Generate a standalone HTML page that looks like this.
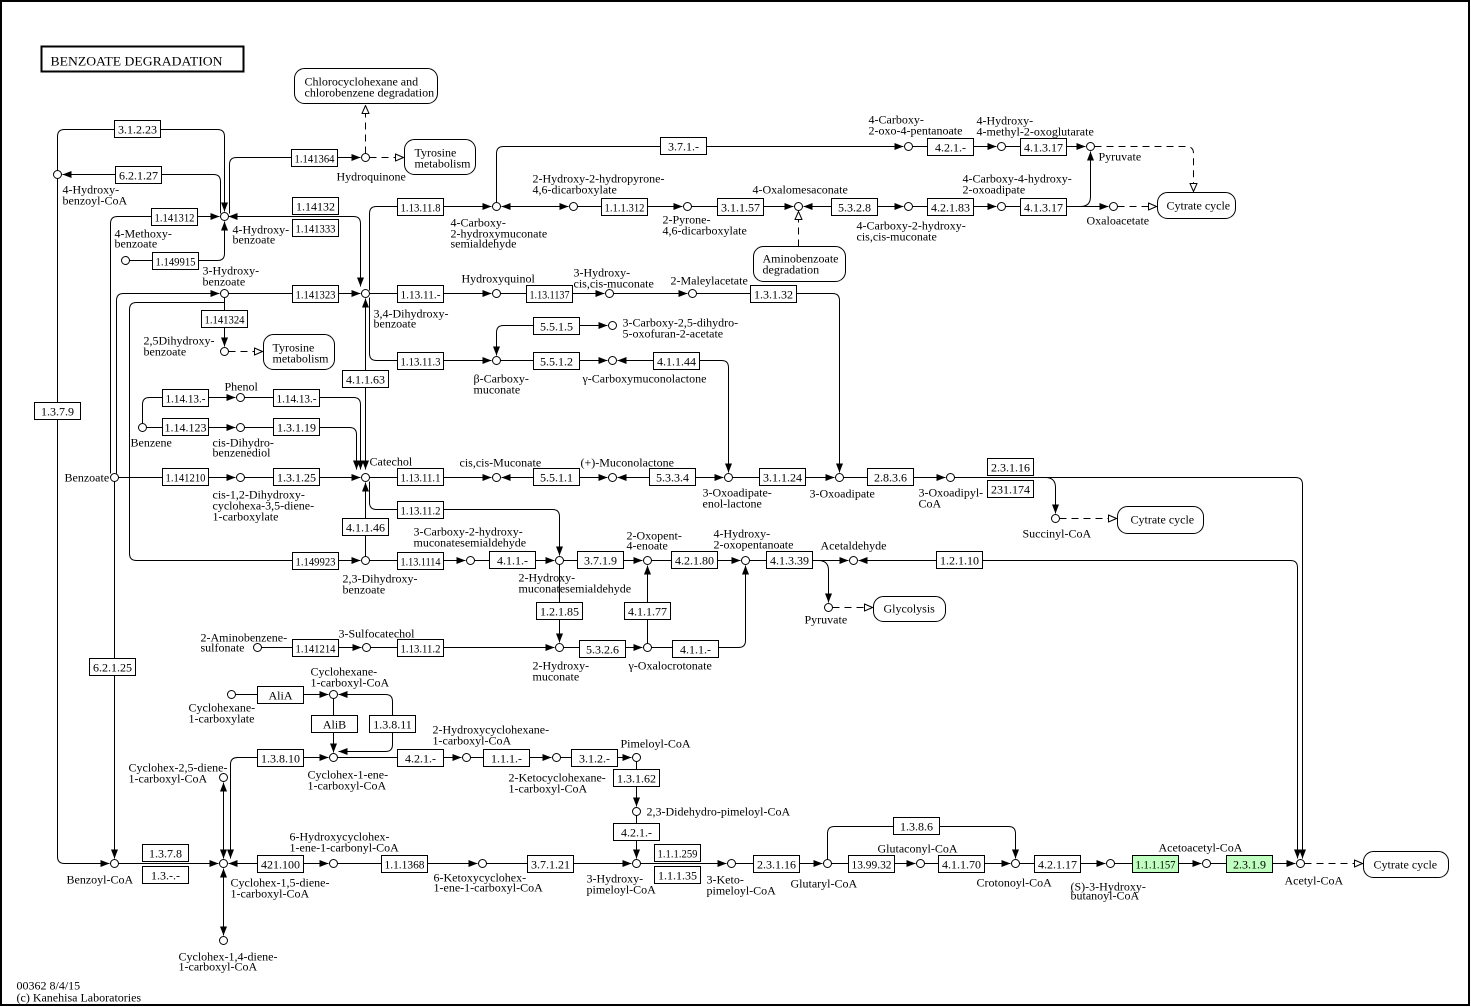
<!DOCTYPE html>
<html><head><meta charset="utf-8"><style>
html,body{margin:0;padding:0;background:#fff;overflow:hidden}
svg{display:block}
.e rect{fill:#fff;stroke:#000;stroke-width:1}
.e text{text-anchor:middle}
.m rect{fill:#fff;stroke:#000;stroke-width:1}
.l path{fill:none;stroke:#000;stroke-width:1}
.d path{fill:none;stroke:#000;stroke-width:1;stroke-dasharray:7,5}
.n circle{fill:#fff;stroke:#000;stroke-width:1}
</style></head><body>
<svg width="1471" height="1007" xmlns="http://www.w3.org/2000/svg" font-family="'Liberation Serif', 'DejaVu Serif', serif" font-size="12">
<defs>
<marker id="a" viewBox="0 0 9 7" refX="9" refY="3.5" markerWidth="9" markerHeight="7" markerUnits="userSpaceOnUse" orient="auto-start-reverse"><path d="M0,0L9,3.5L0,7z" fill="#000"/></marker>
<marker id="h" viewBox="0 0 9 8" refX="8.5" refY="4" markerWidth="9" markerHeight="8" markerUnits="userSpaceOnUse" orient="auto"><path d="M0.5,0.5L8.5,4L0.5,7.5z" fill="#fff" stroke="#000" stroke-width="1" stroke-dasharray="none"/></marker>
</defs>
<rect x="0" y="0" width="1471" height="1007" fill="#fff"/>
<rect x="1" y="1" width="1468" height="1004" fill="none" stroke="#000" stroke-width="2"/>
<g transform="translate(0.5,0.5)">
<rect x="41" y="46" width="202" height="25" fill="none" stroke="#000" stroke-width="2"/>
<text x="50" y="65" font-size="13" textLength="172" lengthAdjust="spacingAndGlyphs">BENZOATE  DEGRADATION</text>

<g class="l">
<path d="M224,211V136Q224,129 217,129H64Q57,129 57,136V856Q57,863 64,863H109" marker-start="url(#a)" marker-end="url(#a)"/>
<path d="M220,213V181Q220,174 213,174H62" marker-end="url(#a)"/>
<path d="M229,213V164Q229,157 236,157H360" marker-end="url(#a)"/>
<path d="M110,473V223Q110,216 117,216H219" marker-end="url(#a)"/>
<path d="M129,260H217Q224,260 224,253V221" marker-end="url(#a)"/>
<path d="M228,216H353Q360,216 360,223V286" marker-start="url(#a)" marker-end="url(#a)"/>
<path d="M116,473V300Q116,293 123,293H219" marker-end="url(#a)"/>
<path d="M224,297V302H136Q129,302 129,309V553Q129,560 136,560H360" marker-end="url(#a)"/>
<path d="M228,293H360" marker-end="url(#a)"/>
<path d="M224,297V346" marker-end="url(#a)"/>
<path d="M369,290V213Q369,206 376,206H491" marker-end="url(#a)"/>
<path d="M369,293H491" marker-end="url(#a)"/>
<path d="M369,297V353Q369,360 376,360H491" marker-end="url(#a)"/>
<path d="M365,298V469" marker-start="url(#a)" marker-end="url(#a)"/>
<path d="M142,423V404Q142,397 149,397H235" marker-end="url(#a)"/>
<path d="M244,397H353Q360,397 360,404V469" marker-end="url(#a)"/>
<path d="M146,427H235" marker-end="url(#a)"/>
<path d="M244,427H349Q356,427 356,434V469" marker-end="url(#a)"/>
<path d="M118,477H235" marker-end="url(#a)"/>
<path d="M244,477H360" marker-end="url(#a)"/>
<path d="M369,477H491" marker-end="url(#a)"/>
<path d="M369,481V502Q369,509 376,509H552Q559,509 559,516V555" marker-end="url(#a)"/>
<path d="M365,556V482" marker-end="url(#a)"/>
<path d="M369,560H465" marker-end="url(#a)"/>
<path d="M474,560H554" marker-end="url(#a)"/>
<path d="M563,560H642" marker-end="url(#a)"/>
<path d="M651,560H740" marker-end="url(#a)"/>
<path d="M749,560H848" marker-end="url(#a)"/>
<path d="M818,560Q828,560 828,570V602" marker-end="url(#a)"/>
<path d="M858,560H1290Q1297,560 1297,567V858" marker-start="url(#a)" marker-end="url(#a)"/>
<path d="M954,477H1295Q1302,477 1302,484V858" marker-end="url(#a)"/>
<path d="M1045,477Q1055,477 1055,487V513" marker-end="url(#a)"/>
<path d="M559,564V642" marker-end="url(#a)"/>
<path d="M261,647H361" marker-end="url(#a)"/>
<path d="M370,647H554" marker-end="url(#a)"/>
<path d="M563,647H642" marker-end="url(#a)"/>
<path d="M647,643V565" marker-end="url(#a)"/>
<path d="M651,647H738Q745,647 745,640V565" marker-end="url(#a)"/>
<path d="M501,477H607" marker-start="url(#a)" marker-end="url(#a)"/>
<path d="M617,477H723" marker-start="url(#a)" marker-end="url(#a)"/>
<path d="M732,477H834" marker-end="url(#a)"/>
<path d="M843,477H945" marker-end="url(#a)"/>
<path d="M617,360H721Q728,360 728,367V472" marker-start="url(#a)" marker-end="url(#a)"/>
<path d="M696,293H832Q839,293 839,300V472" marker-end="url(#a)"/>
<path d="M500,293H604" marker-end="url(#a)"/>
<path d="M613,293H687" marker-end="url(#a)"/>
<path d="M496,355V332Q496,325 503,325H607" marker-start="url(#a)" marker-end="url(#a)"/>
<path d="M500,360H607" marker-end="url(#a)"/>
<path d="M496,202V153Q496,146 503,146H903" marker-end="url(#a)"/>
<path d="M912,146H996" marker-end="url(#a)"/>
<path d="M1005,146H1085" marker-end="url(#a)"/>
<path d="M501,206H568" marker-start="url(#a)" marker-end="url(#a)"/>
<path d="M577,206H682" marker-end="url(#a)"/>
<path d="M691,206H793" marker-end="url(#a)"/>
<path d="M803,206H903" marker-start="url(#a)" marker-end="url(#a)"/>
<path d="M912,206H996" marker-end="url(#a)"/>
<path d="M1005,206H1108" marker-end="url(#a)"/>
<path d="M1080,206Q1090,206 1090,196V151" marker-end="url(#a)"/>
<path d="M235,694H328" marker-end="url(#a)"/>
<path d="M338,694H385Q392,694 392,701V744Q392,751 385,751H338" marker-start="url(#a)" marker-end="url(#a)"/>
<path d="M333,698V752" marker-end="url(#a)"/>
<path d="M230,858V764Q230,757 237,757H328" marker-start="url(#a)" marker-end="url(#a)"/>
<path d="M223,782V858" marker-start="url(#a)" marker-end="url(#a)"/>
<path d="M223,868V935" marker-start="url(#a)" marker-end="url(#a)"/>
<path d="M118,863H218" marker-end="url(#a)"/>
<path d="M228,863H328" marker-start="url(#a)" marker-end="url(#a)"/>
<path d="M337,863H477" marker-end="url(#a)"/>
<path d="M486,863H631" marker-end="url(#a)"/>
<path d="M337,757H461" marker-end="url(#a)"/>
<path d="M470,757H551" marker-end="url(#a)"/>
<path d="M560,757H631" marker-end="url(#a)"/>
<path d="M636,761V806" marker-end="url(#a)"/>
<path d="M636,815V858" marker-end="url(#a)"/>
<path d="M640,863H726" marker-end="url(#a)"/>
<path d="M735,863H822" marker-end="url(#a)"/>
<path d="M831,863H915" marker-end="url(#a)"/>
<path d="M827,859V833Q827,826 834,826H1008Q1015,826 1015,833V858" marker-end="url(#a)"/>
<path d="M924,863H1010" marker-end="url(#a)"/>
<path d="M1019,863H1105" marker-end="url(#a)"/>
<path d="M1114,863H1201" marker-end="url(#a)"/>
<path d="M1210,863H1295" marker-end="url(#a)"/>
<path d="M114,481V858" marker-end="url(#a)"/>
</g>
<g class="d">
<path d="M365,153V105" marker-end="url(#h)"/>
<path d="M369,157H403" marker-end="url(#h)"/>
<path d="M228,351H262" marker-end="url(#h)"/>
<path d="M1059,518H1116" marker-end="url(#h)"/>
<path d="M832,607H872" marker-end="url(#h)"/>
<path d="M1094,146H1186Q1193,146 1193,153V191" marker-end="url(#h)"/>
<path d="M1117,206H1156" marker-end="url(#h)"/>
<path d="M798,246V211" marker-end="url(#h)"/>
<path d="M1304,863H1362" marker-end="url(#h)"/>
</g>

<g class="m">
<rect x="294" y="68" width="143" height="35" rx="10"/>
<rect x="404" y="139" width="71" height="35" rx="10"/>
<rect x="263" y="334" width="71" height="35" rx="10"/>
<rect x="753" y="246" width="92" height="35" rx="10"/>
<rect x="1157" y="192" width="78" height="26" rx="10"/>
<rect x="1117" y="506" width="86" height="27" rx="10"/>
<rect x="873" y="596" width="72" height="25" rx="10"/>
<rect x="1363" y="851" width="85" height="26" rx="10"/>
</g>
<text x="304" y="85">Chlorocyclohexane and</text>
<text x="304" y="96">chlorobenzene degradation</text>
<text x="414" y="156">Tyrosine</text>
<text x="414" y="167">metabolism</text>
<text x="272" y="351">Tyrosine</text>
<text x="272" y="362">metabolism</text>
<text x="762" y="262">Aminobenzoate</text>
<text x="762" y="273">degradation</text>
<text x="1166" y="209">Cytrate cycle</text>
<text x="1130" y="523">Cytrate cycle</text>
<text x="883" y="612">Glycolysis</text>
<text x="1373" y="868">Cytrate cycle</text>

<g class="e">
<rect x="114" y="120" width="46" height="17"/><text x="137" y="133">3.1.2.23</text>
<rect x="115" y="166" width="46" height="17"/><text x="138" y="179">6.2.1.27</text>
<rect x="151" y="208" width="46" height="17"/><text x="174" y="221" textLength="40" lengthAdjust="spacingAndGlyphs">1.141312</text>
<rect x="152" y="252" width="46" height="17"/><text x="175" y="265" textLength="40" lengthAdjust="spacingAndGlyphs">1.149915</text>
<rect x="291" y="149" width="46" height="17"/><text x="314" y="162" textLength="40" lengthAdjust="spacingAndGlyphs">1.141364</text>
<rect x="292" y="197" width="46" height="17"/><text x="315" y="210">1.14132</text>
<rect x="292" y="219" width="46" height="17"/><text x="315" y="232" textLength="40" lengthAdjust="spacingAndGlyphs">1.141333</text>
<rect x="292" y="285" width="46" height="17"/><text x="315" y="298" textLength="40" lengthAdjust="spacingAndGlyphs">1.141323</text>
<rect x="201" y="310" width="46" height="17"/><text x="224" y="323" textLength="40" lengthAdjust="spacingAndGlyphs">1.141324</text>
<rect x="397" y="198" width="46" height="17"/><text x="420" y="211" textLength="40" lengthAdjust="spacingAndGlyphs">1.13.11.8</text>
<rect x="397" y="285" width="46" height="17"/><text x="420" y="298" textLength="40" lengthAdjust="spacingAndGlyphs">1.13.11.-</text>
<rect x="397" y="352" width="46" height="17"/><text x="420" y="365" textLength="40" lengthAdjust="spacingAndGlyphs">1.13.11.3</text>
<rect x="342" y="370" width="46" height="17"/><text x="365" y="383">4.1.1.63</text>
<rect x="34" y="402" width="46" height="17"/><text x="57" y="415">1.3.7.9</text>
<rect x="162" y="389" width="46" height="17"/><text x="185" y="402" textLength="40" lengthAdjust="spacingAndGlyphs">1.14.13.-</text>
<rect x="273" y="389" width="46" height="17"/><text x="296" y="402" textLength="40" lengthAdjust="spacingAndGlyphs">1.14.13.-</text>
<rect x="162" y="418" width="46" height="17"/><text x="185" y="431">1.14.123</text>
<rect x="273" y="418" width="46" height="17"/><text x="296" y="431">1.3.1.19</text>
<rect x="162" y="468" width="46" height="17"/><text x="185" y="481" textLength="40" lengthAdjust="spacingAndGlyphs">1.141210</text>
<rect x="273" y="468" width="46" height="17"/><text x="296" y="481">1.3.1.25</text>
<rect x="397" y="468" width="46" height="17"/><text x="420" y="481" textLength="40" lengthAdjust="spacingAndGlyphs">1.13.11.1</text>
<rect x="397" y="501" width="46" height="17"/><text x="420" y="514" textLength="40" lengthAdjust="spacingAndGlyphs">1.13.11.2</text>
<rect x="342" y="518" width="46" height="17"/><text x="365" y="531">4.1.1.46</text>
<rect x="292" y="552" width="46" height="17"/><text x="315" y="565" textLength="40" lengthAdjust="spacingAndGlyphs">1.149923</text>
<rect x="397" y="552" width="46" height="17"/><text x="420" y="565" textLength="40" lengthAdjust="spacingAndGlyphs">1.13.1114</text>
<rect x="292" y="639" width="46" height="17"/><text x="315" y="652" textLength="40" lengthAdjust="spacingAndGlyphs">1.141214</text>
<rect x="397" y="639" width="46" height="17"/><text x="420" y="652" textLength="40" lengthAdjust="spacingAndGlyphs">1.13.11.2</text>
<rect x="89" y="658" width="46" height="17"/><text x="112" y="671">6.2.1.25</text>
<rect x="660" y="137" width="46" height="17"/><text x="683" y="150">3.7.1.-</text>
<rect x="927" y="138" width="46" height="17"/><text x="950" y="151">4.2.1.-</text>
<rect x="1020" y="138" width="46" height="17"/><text x="1043" y="151">4.1.3.17</text>
<rect x="601" y="198" width="46" height="17"/><text x="624" y="211" textLength="40" lengthAdjust="spacingAndGlyphs">1.1.1.312</text>
<rect x="717" y="198" width="46" height="17"/><text x="740" y="211">3.1.1.57</text>
<rect x="831" y="198" width="46" height="17"/><text x="854" y="211">5.3.2.8</text>
<rect x="927" y="198" width="46" height="17"/><text x="950" y="211">4.2.1.83</text>
<rect x="1020" y="198" width="46" height="17"/><text x="1043" y="211">4.1.3.17</text>
<rect x="526" y="285" width="46" height="17"/><text x="549" y="298" textLength="40" lengthAdjust="spacingAndGlyphs">1.13.1137</text>
<rect x="750" y="285" width="46" height="17"/><text x="773" y="298">1.3.1.32</text>
<rect x="533" y="317" width="46" height="17"/><text x="556" y="330">5.5.1.5</text>
<rect x="533" y="352" width="46" height="17"/><text x="556" y="365">5.5.1.2</text>
<rect x="653" y="352" width="46" height="17"/><text x="676" y="365">4.1.1.44</text>
<rect x="533" y="468" width="46" height="17"/><text x="556" y="481">5.5.1.1</text>
<rect x="649" y="468" width="46" height="17"/><text x="672" y="481">5.3.3.4</text>
<rect x="759" y="468" width="46" height="17"/><text x="782" y="481">3.1.1.24</text>
<rect x="867" y="468" width="46" height="17"/><text x="890" y="481">2.8.3.6</text>
<rect x="987" y="458" width="46" height="17"/><text x="1010" y="471">2.3.1.16</text>
<rect x="987" y="480" width="46" height="17"/><text x="1010" y="493">231.174</text>
<rect x="489" y="551" width="46" height="17"/><text x="512" y="564">4.1.1.-</text>
<rect x="577" y="551" width="46" height="17"/><text x="600" y="564">3.7.1.9</text>
<rect x="671" y="551" width="46" height="17"/><text x="694" y="564">4.2.1.80</text>
<rect x="766" y="551" width="46" height="17"/><text x="789" y="564">4.1.3.39</text>
<rect x="936" y="551" width="46" height="17"/><text x="959" y="564">1.2.1.10</text>
<rect x="536" y="602" width="46" height="17"/><text x="559" y="615">1.2.1.85</text>
<rect x="624" y="602" width="46" height="17"/><text x="647" y="615">4.1.1.77</text>
<rect x="579" y="640" width="46" height="17"/><text x="602" y="653">5.3.2.6</text>
<rect x="672" y="640" width="46" height="17"/><text x="695" y="653">4.1.1.-</text>
<rect x="257" y="686" width="46" height="17"/><text x="280" y="699">AliA</text>
<rect x="311" y="715" width="46" height="17"/><text x="334" y="728">AliB</text>
<rect x="369" y="715" width="46" height="17"/><text x="392" y="728">1.3.8.11</text>
<rect x="257" y="749" width="46" height="17"/><text x="280" y="762">1.3.8.10</text>
<rect x="397" y="749" width="46" height="17"/><text x="420" y="762">4.2.1.-</text>
<rect x="483" y="749" width="46" height="17"/><text x="506" y="762">1.1.1.-</text>
<rect x="571" y="749" width="46" height="17"/><text x="594" y="762">3.1.2.-</text>
<rect x="613" y="769" width="46" height="17"/><text x="636" y="782">1.3.1.62</text>
<rect x="613" y="823" width="46" height="17"/><text x="636" y="836">4.2.1.-</text>
<rect x="142" y="844" width="46" height="17"/><text x="165" y="857">1.3.7.8</text>
<rect x="142" y="866" width="46" height="17"/><text x="165" y="879">1.3.-.-</text>
<rect x="257" y="855" width="46" height="17"/><text x="280" y="868">421.100</text>
<rect x="381" y="855" width="46" height="17"/><text x="404" y="868" textLength="40" lengthAdjust="spacingAndGlyphs">1.1.1368</text>
<rect x="527" y="855" width="46" height="17"/><text x="550" y="868">3.7.1.21</text>
<rect x="654" y="844" width="46" height="17"/><text x="677" y="857" textLength="40" lengthAdjust="spacingAndGlyphs">1.1.1.259</text>
<rect x="654" y="866" width="46" height="17"/><text x="677" y="879">1.1.1.35</text>
<rect x="753" y="855" width="46" height="17"/><text x="776" y="868">2.3.1.16</text>
<rect x="848" y="855" width="46" height="17"/><text x="871" y="868" textLength="40" lengthAdjust="spacingAndGlyphs">13.99.32</text>
<rect x="893" y="817" width="46" height="17"/><text x="916" y="830">1.3.8.6</text>
<rect x="938" y="855" width="46" height="17"/><text x="961" y="868">4.1.1.70</text>
<rect x="1034" y="855" width="46" height="17"/><text x="1057" y="868">4.2.1.17</text>
<rect x="1132" y="855" width="46" height="17" style="fill:#bfffbf"/><text x="1155" y="868" textLength="40" lengthAdjust="spacingAndGlyphs">1.1.1.157</text>
<rect x="1226" y="855" width="46" height="17" style="fill:#bfffbf"/><text x="1249" y="868">2.3.1.9</text>
</g>

<g class="n">
<circle cx="224" cy="216" r="4"/><circle cx="57" cy="174" r="4"/><circle cx="365" cy="157" r="4"/>
<circle cx="125" cy="260" r="4"/><circle cx="224" cy="293" r="4"/><circle cx="365" cy="293" r="4"/>
<circle cx="224" cy="351" r="4"/><circle cx="496" cy="206" r="4"/><circle cx="496" cy="293" r="4"/>
<circle cx="496" cy="360" r="4"/><circle cx="573" cy="206" r="4"/><circle cx="687" cy="206" r="4"/>
<circle cx="798" cy="206" r="4"/><circle cx="908" cy="206" r="4"/><circle cx="1001" cy="206" r="4"/>
<circle cx="1113" cy="206" r="4"/><circle cx="908" cy="146" r="4"/><circle cx="1001" cy="146" r="4"/>
<circle cx="1090" cy="146" r="4"/><circle cx="609" cy="293" r="4"/><circle cx="692" cy="293" r="4"/>
<circle cx="612" cy="325" r="4"/><circle cx="612" cy="360" r="4"/><circle cx="240" cy="397" r="4"/>
<circle cx="142" cy="427" r="4"/><circle cx="240" cy="427" r="4"/><circle cx="365" cy="477" r="4"/>
<circle cx="114" cy="477" r="4"/><circle cx="240" cy="477" r="4"/><circle cx="496" cy="477" r="4"/>
<circle cx="612" cy="477" r="4"/><circle cx="728" cy="477" r="4"/><circle cx="839" cy="477" r="4"/>
<circle cx="950" cy="477" r="4"/><circle cx="1055" cy="518" r="4"/><circle cx="365" cy="560" r="4"/>
<circle cx="470" cy="560" r="4"/><circle cx="559" cy="560" r="4"/><circle cx="647" cy="560" r="4"/>
<circle cx="745" cy="560" r="4"/><circle cx="853" cy="560" r="4"/><circle cx="828" cy="607" r="4"/>
<circle cx="257" cy="647" r="4"/><circle cx="366" cy="647" r="4"/><circle cx="559" cy="647" r="4"/>
<circle cx="647" cy="647" r="4"/><circle cx="231" cy="694" r="4"/><circle cx="333" cy="694" r="4"/>
<circle cx="333" cy="757" r="4"/><circle cx="466" cy="757" r="4"/><circle cx="556" cy="757" r="4"/>
<circle cx="636" cy="757" r="4"/><circle cx="223" cy="777" r="4"/><circle cx="114" cy="863" r="4"/>
<circle cx="223" cy="863" r="4"/><circle cx="333" cy="863" r="4"/><circle cx="482" cy="863" r="4"/>
<circle cx="636" cy="863" r="4"/><circle cx="636" cy="811" r="4"/><circle cx="731" cy="863" r="4"/>
<circle cx="827" cy="863" r="4"/><circle cx="920" cy="863" r="4"/><circle cx="1015" cy="863" r="4"/>
<circle cx="1110" cy="863" r="4"/><circle cx="1206" cy="863" r="4"/><circle cx="1300" cy="863" r="4"/>
<circle cx="223" cy="940" r="4"/>
</g>

<g>
<text x="62" y="193">4-Hydroxy-</text><text x="62" y="204">benzoyl-CoA</text>
<text x="114" y="237">4-Methoxy-</text><text x="114" y="247">benzoate</text>
<text x="232" y="233">4-Hydroxy-</text><text x="232" y="243">benzoate</text>
<text x="336" y="180">Hydroquinone</text>
<text x="202" y="274">3-Hydroxy-</text><text x="202" y="285">benzoate</text>
<text x="143" y="344">2,5Dihydroxy-</text><text x="143" y="355">benzoate</text>
<text x="373" y="317">3,4-Dihydroxy-</text><text x="373" y="327">benzoate</text>
<text x="450" y="226">4-Carboxy-</text><text x="450" y="237">2-hydroxymuconate</text><text x="450" y="247">semialdehyde</text>
<text x="461" y="282">Hydroxyquinol</text>
<text x="573" y="276">3-Hydroxy-</text><text x="573" y="287">cis,cis-muconate</text>
<text x="670" y="284">2-Maleylacetate</text>
<text x="622" y="326">3-Carboxy-2,5-dihydro-</text><text x="622" y="337">5-oxofuran-2-acetate</text>
<text x="473" y="382">β-Carboxy-</text><text x="473" y="393">muconate</text>
<text x="582" y="382">γ-Carboxymuconolactone</text>
<text x="532" y="182">2-Hydroxy-2-hydropyrone-</text><text x="532" y="193">4,6-dicarboxylate</text>
<text x="662" y="223">2-Pyrone-</text><text x="662" y="234">4,6-dicarboxylate</text>
<text x="752" y="193">4-Oxalomesaconate</text>
<text x="856" y="229">4-Carboxy-2-hydroxy-</text><text x="856" y="240">cis,cis-muconate</text>
<text x="962" y="182">4-Carboxy-4-hydroxy-</text><text x="962" y="193">2-oxoadipate</text>
<text x="1086" y="224">Oxaloacetate</text>
<text x="868" y="123">4-Carboxy-</text><text x="868" y="134">2-oxo-4-pentanoate</text>
<text x="976" y="124">4-Hydroxy-</text><text x="976" y="135">4-methyl-2-oxoglutarate</text>
<text x="1098" y="160">Pyruvate</text>
<text x="224" y="390">Phenol</text>
<text x="130" y="446">Benzene</text>
<text x="212" y="446">cis-Dihydro-</text><text x="212" y="456">benzenediol</text>
<text x="369" y="465">Catechol</text>
<text x="64" y="481">Benzoate</text>
<text x="212" y="498">cis-1,2-Dihydroxy-</text><text x="212" y="509">cyclohexa-3,5-diene-</text><text x="212" y="520">1-carboxylate</text>
<text x="459" y="466">cis,cis-Muconate</text>
<text x="580" y="466">(+)-Muconolactone</text>
<text x="702" y="496">3-Oxoadipate-</text><text x="702" y="507">enol-lactone</text>
<text x="809" y="497">3-Oxoadipate</text>
<text x="918" y="496">3-Oxoadipyl-</text><text x="918" y="507">CoA</text>
<text x="1022" y="537">Succinyl-CoA</text>
<text x="413" y="535">3-Carboxy-2-hydroxy-</text><text x="413" y="546">muconatesemialdehyde</text>
<text x="342" y="582">2,3-Dihydroxy-</text><text x="342" y="593">benzoate</text>
<text x="518" y="581">2-Hydroxy-</text><text x="518" y="592">muconatesemialdehyde</text>
<text x="626" y="539">2-Oxopent-</text><text x="626" y="549">4-enoate</text>
<text x="713" y="537">4-Hydroxy-</text><text x="713" y="548">2-oxopentanoate</text>
<text x="820" y="549">Acetaldehyde</text>
<text x="804" y="623">Pyruvate</text>
<text x="200" y="641">2-Aminobenzene-</text><text x="200" y="651">sulfonate</text>
<text x="338" y="637">3-Sulfocatechol</text>
<text x="532" y="669">2-Hydroxy-</text><text x="532" y="680">muconate</text>
<text x="628" y="669">γ-Oxalocrotonate</text>
<text x="310" y="675">Cyclohexane-</text><text x="310" y="686">1-carboxyl-CoA</text>
<text x="188" y="711">Cyclohexane-</text><text x="188" y="722">1-carboxylate</text>
<text x="432" y="733">2-Hydroxycyclohexane-</text><text x="432" y="744">1-carboxyl-CoA</text>
<text x="128" y="771">Cyclohex-2,5-diene-</text><text x="128" y="782">1-carboxyl-CoA</text>
<text x="307" y="778">Cyclohex-1-ene-</text><text x="307" y="789">1-carboxyl-CoA</text>
<text x="508" y="781">2-Ketocyclohexane-</text><text x="508" y="792">1-carboxyl-CoA</text>
<text x="620" y="747">Pimeloyl-CoA</text>
<text x="646" y="815">2,3-Didehydro-pimeloyl-CoA</text>
<text x="289" y="840">6-Hydroxycyclohex-</text><text x="289" y="851">1-ene-1-carbonyl-CoA</text>
<text x="877" y="852">Glutaconyl-CoA</text>
<text x="1158" y="851">Acetoacetyl-CoA</text>
<text x="66" y="883">Benzoyl-CoA</text>
<text x="230" y="886">Cyclohex-1,5-diene-</text><text x="230" y="897">1-carboxyl-CoA</text>
<text x="433" y="881">6-Ketoxycyclohex-</text><text x="433" y="891">1-ene-1-carboxyl-CoA</text>
<text x="586" y="882">3-Hydroxy-</text><text x="586" y="893">pimeloyl-CoA</text>
<text x="706" y="883">3-Keto-</text><text x="706" y="894">pimeloyl-CoA</text>
<text x="790" y="887">Glutaryl-CoA</text>
<text x="976" y="886">Crotonoyl-CoA</text>
<text x="1070" y="890">(S)-3-Hydroxy-</text><text x="1070" y="899">butanoyl-CoA</text>
<text x="1284" y="884">Acetyl-CoA</text>
<text x="178" y="960">Cyclohex-1,4-diene-</text><text x="178" y="970">1-carboxyl-CoA</text>
<text x="16" y="989">00362 8/4/15</text>
<text x="16" y="1001">(c) Kanehisa Laboratories</text>
</g>
</g>
</svg>
</body></html>
